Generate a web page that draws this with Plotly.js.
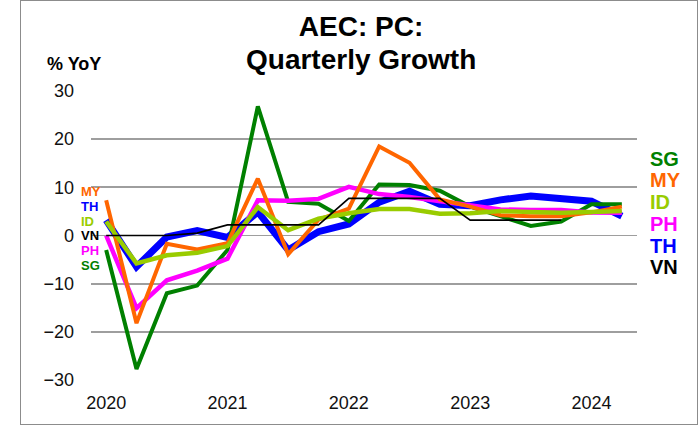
<!DOCTYPE html>
<html>
<head>
<meta charset="utf-8">
<script src="https://cdn.plot.ly/plotly-3.0.1.min.js"></script>
<style>
  html, body { margin: 0; padding: 0; background: #fff; }
  #wrap { position: relative; width: 700px; height: 427px; }
  #chart { width: 700px; height: 427px; }
  #frame { position: absolute; left: 20px; top: 0px; width: 676px; height: 423px;
           border: 1.5px solid #8c8c8c; pointer-events: none; }
</style>
</head>
<body>
<div id="wrap">
  <div id="chart"></div>
  <div id="frame"></div>
</div>
<script>
// Quarters: 2020Q1 .. 2024Q2
const quarters = ["2020Q1","2020Q2","2020Q3","2020Q4","2021Q1","2021Q2","2021Q3","2021Q4",
                  "2022Q1","2022Q2","2022Q3","2022Q4","2023Q1","2023Q2","2023Q3","2023Q4",
                  "2024Q1","2024Q2"];
const yearTickIndex = [0, 4, 8, 12, 16];
const yearTickText = ["2020", "2021", "2022", "2023", "2024"];
const titleLines = ["AEC: PC:", "Quarterly Growth"];

// % YoY private consumption growth
const TH = [3.2, -6.5, -0.3, 1.0, -0.4, 4.9, -3.0, 0.8, 2.4, 6.9, 9.2, 6.5, 6.2, 7.4, 8.2, 7.5, 7.1, 4.0];
const SG = [-3.0, -27.7, -12.0, -10.4, -3.0, 26.8, 7.0, 6.6, 3.0, 10.6, 10.5, 9.3, 6.0, 4.0, 2.0, 2.9, 6.5, 6.5];
const PH = [0.0, -15.1, -9.3, -7.3, -4.8, 7.3, 7.2, 7.6, 10.1, 8.6, 8.0, 7.2, 6.2, 5.4, 5.3, 5.3, 4.8, 4.7];
const MY = [7.3, -18.2, -1.7, -2.9, -1.6, 11.8, -3.9, 3.3, 5.6, 18.5, 15.1, 7.5, 6.0, 4.2, 4.0, 4.0, 4.8, 6.0];
const ID = [2.9, -5.8, -4.1, -3.6, -2.2, 5.9, 1.1, 3.5, 4.6, 5.5, 5.5, 4.5, 4.6, 5.1, 4.9, 4.7, 4.9, 5.1];
const VN = [0.0, 0.0, 0.0, 0.5, 2.2, 2.2, 2.2, 2.2, 7.7, 7.7, 7.7, 7.7, 3.2, 3.2, 3.2, 3.2, null, null];

const seriesNames = ["TH", "SG", "PH", "MY", "ID", "VN"];
const seriesData = { TH: TH, SG: SG, PH: PH, MY: MY, ID: ID, VN: VN };
const colors = { SG: "#008000", MY: "#FF6600", ID: "#99CC00", PH: "#FF00FF", TH: "#0000FF", VN: "#000000" };
const widths = { SG: 4, MY: 4, ID: 4.5, PH: 4.5, TH: 7, VN: 1.6 };

// label orders
const rightLabels = ["SG", "MY", "ID", "PH", "TH", "VN"];
const leftLabels = ["MY", "TH", "ID", "VN", "PH", "SG"];

const xIdx = quarters.map((q, i) => i);
const FONT = "Liberation Sans, Arial, sans-serif";

const traces = seriesNames.map(n => ({
  type: "scatter", mode: "lines", name: n,
  x: xIdx, y: seriesData[n], text: quarters,
  line: { color: colors[n], width: widths[n] },
  connectgaps: false, hoverinfo: "text+y+name"
}));

// pixel -> paper helpers for the plot area (x 91..637, y 91..380)
const L = 91, R = 637, T = 91, B = 380;
const px = x => (x - L) / (R - L);
const py = y => (B - y) / (B - T);

const annotations = [];
rightLabels.forEach((n, i) => {
  const ys = [159, 180, 201.7, 223.5, 245.7, 267.3];
  annotations.push({ xref: "paper", yref: "paper", x: px(648), y: py(ys[i]),
    xanchor: "left", yanchor: "middle", showarrow: false, text: "<b>" + n + "</b>",
    font: { family: FONT, size: 20, color: colors[n] } });
});
leftLabels.forEach((n, i) => {
  annotations.push({ xref: "paper", yref: "paper", x: px(79), y: py(191.5 + i * 14.8),
    xanchor: "left", yanchor: "middle", showarrow: false, text: "<b>" + n + "</b>",
    font: { family: FONT, size: 13, color: colors[n] } });
});
annotations.push({ xref: "paper", yref: "paper", x: px(45), y: py(64),
  xanchor: "left", yanchor: "middle", showarrow: false, text: "<b>% YoY</b>",
  font: { family: FONT, size: 18, color: "#000" } });
// second title line
annotations.push({ xref: "paper", yref: "paper", x: px(361), y: py(59),
  xanchor: "center", yanchor: "middle", showarrow: false, text: "<b>" + titleLines[1] + "</b>",
  font: { family: FONT, size: 28, color: "#000" } });

const layout = {
  width: 700, height: 427,
  margin: { l: L, r: 700 - R, t: T, b: 427 - B, pad: 0 },
  paper_bgcolor: "#ffffff", plot_bgcolor: "#ffffff",
  showlegend: false,
  title: { text: "<b>" + titleLines[0] + "</b>",
    font: { family: FONT, size: 28, color: "#000" },
    xref: "paper", x: px(361), xanchor: "center",
    yref: "container", y: 1 - 26 / 427, yanchor: "middle" },
  xaxis: {
    range: [-0.5, 17.5], tickmode: "array", tickvals: yearTickIndex, ticktext: yearTickText,
    showgrid: false, zeroline: false, showline: false, ticks: "",
    ticklabelstandoff: 10,
    tickfont: { family: FONT, size: 18, color: "#111" }
  },
  yaxis: {
    range: [-30, 30], dtick: 10, tick0: 0,
    showgrid: true, gridcolor: "#9e9e9e", gridwidth: 1.8,
    zeroline: false, showline: false, ticks: "",
    ticklabelstandoff: 16,
    tickfont: { family: FONT, size: 18, color: "#111" }
  },
  annotations: annotations
};

Plotly.newPlot("chart", traces, layout, { displayModeBar: false, staticPlot: true });
</script>
</body>
</html>
